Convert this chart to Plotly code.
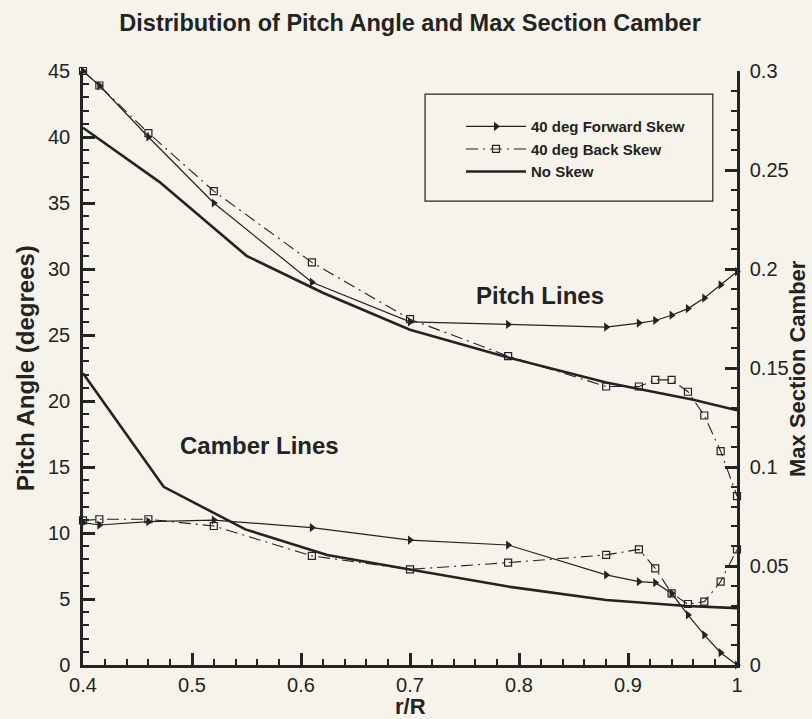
import plotly.graph_objects as go

# ---------------- data ----------------
x_skew = [0.4, 0.415, 0.46, 0.52, 0.61, 0.70, 0.79, 0.88, 0.91, 0.925, 0.94, 0.955, 0.97, 0.985, 1.0]

pitch_forward = [45.0, 43.9, 40.0, 35.0, 29.0, 26.0, 25.8, 25.6, 25.9, 26.1, 26.5, 27.0, 27.8, 28.8, 29.8]
pitch_back    = [45.0, 43.9, 40.3, 35.9, 30.5, 26.2, 23.4, 21.1, 21.1, 21.6, 21.6, 20.7, 18.9, 16.2, 12.8]

camber_forward = [0.0719, 0.0707, 0.0724, 0.0732, 0.0694, 0.0631, 0.0606, 0.0455, 0.0421, 0.0416, 0.0362, 0.0253, 0.0152, 0.0062, 0.0]
camber_back    = [0.0730, 0.0736, 0.0736, 0.0702, 0.0551, 0.0483, 0.0517, 0.0556, 0.0584, 0.0488, 0.0362, 0.0308, 0.0320, 0.0421, 0.0584]

x_noskew_pitch = [0.4, 0.47, 0.55, 0.62, 0.70, 0.79, 0.88, 0.96, 1.0]
pitch_noskew   = [40.7, 36.6, 31.0, 28.2, 25.4, 23.3, 21.4, 20.1, 19.3]

x_noskew_camber = [0.4, 0.474, 0.549, 0.624, 0.70, 0.79, 0.88, 0.954, 1.0]
camber_noskew   = [0.1473, 0.0900, 0.0685, 0.0556, 0.0482, 0.0396, 0.0328, 0.0298, 0.0287]

names = ["40 deg Forward Skew", "40 deg Back Skew", "No Skew"]
x_ticks = [0.4, 0.5, 0.6, 0.7, 0.8, 0.9, 1.0]
x_tick_text = ["0.4", "0.5", "0.6", "0.7", "0.8", "0.9", "1"]

# ---------------- style ----------------
INK = "#232323"
BG = "#f6f4ea"
FONT = "Liberation Sans, Arial, sans-serif"

fig = go.Figure()

fwd_style = dict(mode="lines+markers", line=dict(color=INK, width=1.2),
                 marker=dict(symbol="triangle-right", size=8, color=INK))
back_style = dict(mode="lines+markers", line=dict(color=INK, width=1.1, dash="12px,5px,2px,5px"),
                  marker=dict(symbol="square-open", size=7, color=INK, line=dict(width=1.2)))
no_style = dict(mode="lines", line=dict(color=INK, width=2.6))

# pitch lines (left axis)
fig.add_trace(go.Scatter(x=x_skew, y=pitch_forward, name="<b>" + names[0] + "</b>",
                         legendgroup="f", cliponaxis=False, **fwd_style))
fig.add_trace(go.Scatter(x=x_skew, y=pitch_back, name="<b>" + names[1] + "</b>",
                         legendgroup="b", cliponaxis=False, **back_style))
fig.add_trace(go.Scatter(x=x_noskew_pitch, y=pitch_noskew, name="<b>" + names[2] + "</b>",
                         legendgroup="n", cliponaxis=False, **no_style))

# camber lines (right axis)
fig.add_trace(go.Scatter(x=x_skew, y=camber_forward, yaxis="y2", showlegend=False,
                         legendgroup="f", cliponaxis=False, **fwd_style))
fig.add_trace(go.Scatter(x=x_skew, y=camber_back, yaxis="y2", showlegend=False,
                         legendgroup="b", cliponaxis=False, **back_style))
fig.add_trace(go.Scatter(x=x_noskew_camber, y=camber_noskew, yaxis="y2", showlegend=False,
                         legendgroup="n", cliponaxis=False, **no_style))

tick_common = dict(ticks="inside", ticklen=12, tickwidth=2.5, tickcolor=INK,
                   showline=True, linecolor=INK, linewidth=2.5, showgrid=False,
                   zeroline=False, automargin=False,
                   tickfont=dict(family=FONT, size=20, color=INK))
minor_common = dict(ticks="inside", ticklen=6, tickwidth=1.5, tickcolor=INK)
title_font = dict(family=FONT, size=24, color=INK)

fig.update_layout(
    width=812, height=719,
    paper_bgcolor=BG, plot_bgcolor=BG,
    margin=dict(l=83, r=75, t=71, b=54),
    title=dict(text="<b>Distribution of Pitch Angle and Max Section Camber</b>",
               x=0.505, xanchor="center", y=0.968, yanchor="middle",
               font=dict(family=FONT, size=23.5, color=INK)),
    xaxis=dict(range=[0.4, 1.0], tickvals=x_ticks, ticktext=x_tick_text,
               minor=dict(dtick=0.02, **minor_common), ticklabelstandoff=0,
               **tick_common),
    yaxis=dict(range=[0, 45], dtick=5, ticklabelstandoff=6,
               minor=dict(dtick=1, **minor_common),
               **tick_common),
    yaxis2=dict(range=[0, 0.3], dtick=0.05, overlaying="y", side="right", ticklabelstandoff=6,
                minor=dict(dtick=0.01, **minor_common),
                **tick_common),
    legend=dict(x=0.578, y=0.934, xanchor="left", yanchor="top",
                bgcolor="rgba(0,0,0,0)", borderwidth=0,
                font=dict(family=FONT, size=15, color=INK), tracegroupgap=0,
                itemwidth=60),
    showlegend=True,
)

# legend frame
fig.add_shape(type="rect", xref="paper", yref="paper", x0=0.523, x1=0.963, y0=0.781, y1=0.961,
              line=dict(color=INK, width=1.2), fillcolor="rgba(0,0,0,0)")

# axis titles
fig.add_annotation(xref="paper", yref="paper", x=(25 - 83) / 654, y=0.5,
                   text="<b>Pitch Angle (degrees)</b>", textangle=-90, showarrow=False,
                   xanchor="center", yanchor="middle", font=title_font)
fig.add_annotation(xref="paper", yref="paper", x=(797 - 83) / 654, y=0.5,
                   text="<b>Max Section Camber</b>", textangle=-90, showarrow=False,
                   xanchor="center", yanchor="middle", font=dict(family=FONT, size=22, color=INK))
fig.add_annotation(xref="paper", yref="paper", x=0.5, y=(665 - 706) / 594,
                   text="<b>r/R</b>", showarrow=False,
                   xanchor="center", yanchor="middle", font=dict(family=FONT, size=22, color=INK))

# in-plot labels
fig.add_annotation(x=0.819, y=28.0, text="<b>Pitch Lines</b>", showarrow=False,
                   font=title_font)
fig.add_annotation(x=0.562, y=16.6, text="<b>Camber Lines</b>", showarrow=False,
                   font=title_font)

# remove the default 8px page margin so the figure fills the window exactly
fig.write_html("out.html",
               config={"displayModeBar": False},
               post_script="document.body.style.margin='0px';"
                           "document.body.style.background='#f6f4ea';")
